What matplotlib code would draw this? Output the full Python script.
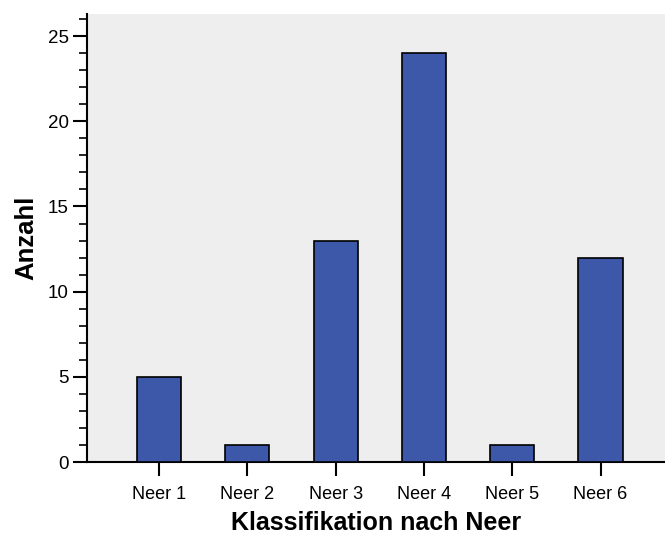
import numpy as np
import matplotlib.pyplot as plt
from matplotlib.ticker import MultipleLocator

plt.rcParams['font.family'] = ['Liberation Sans', 'DejaVu Sans']

categories = ['Neer 1', 'Neer 2', 'Neer 3', 'Neer 4', 'Neer 5', 'Neer 6']
counts = [5, 1, 13, 24, 1, 12]

fig = plt.figure(figsize=(6.65, 5.36), dpi=100)
ax = fig.add_axes([0.1308, 0.138, 0.8692, 0.836])
ax.set_facecolor('#eeeeee')

x = np.arange(len(categories))
ax.bar(x, counts, width=0.5, color='#3d58a9', edgecolor='black', linewidth=1.2, zorder=3)

ax.set_xlim(-0.815, 5.73)
ax.set_ylim(0, 26.3)
ax.set_xticks(x)
ax.set_xticklabels(categories, fontsize=13)
ax.yaxis.set_major_locator(MultipleLocator(5))
ax.yaxis.set_minor_locator(MultipleLocator(1))
ax.tick_params(axis='y', which='major', length=10, width=1.5, labelsize=13.5, pad=3)
ax.tick_params(axis='y', which='minor', length=6, width=1.2)
ax.tick_params(axis='x', length=10, width=1.5, pad=7)

for s in ['top', 'right']:
    ax.spines[s].set_visible(False)
ax.spines['left'].set_linewidth(1.5)
ax.spines['bottom'].set_linewidth(1.5)

ax.set_xlabel('Klassifikation nach Neer', fontsize=18, fontweight='bold', labelpad=6)
ax.set_ylabel('Anzahl', fontsize=18.5, fontweight='bold', labelpad=7)

fig.savefig('out.png', dpi=100)
